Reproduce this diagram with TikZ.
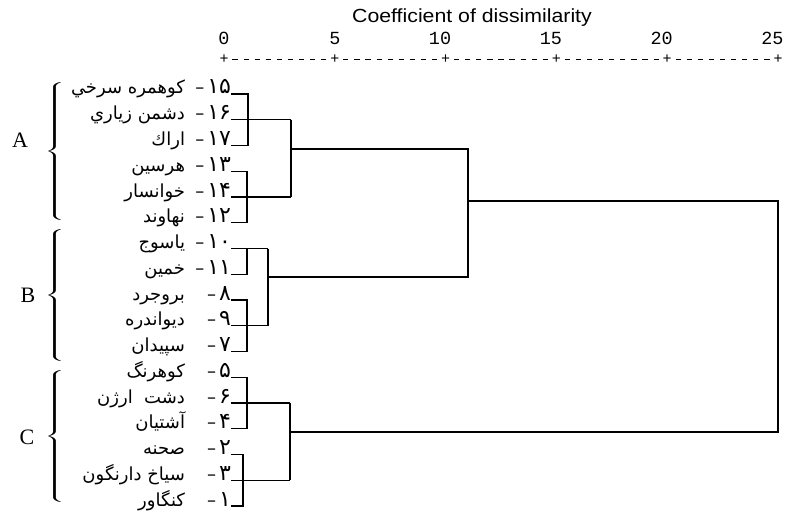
\documentclass[tikz,border=0pt]{standalone}
\usepackage{fontspec}
\TeXXeTstate=1
\newfontfamily\arabicfont[Script=Arabic]{DejaVu Sans}
\newfontfamily\titlefont{Liberation Sans}
\newfontfamily\monofont{Liberation Mono}
\newfontfamily\letterfont{Liberation Serif}
\newcommand\numlab[1]{\mbox{\fontsize{18}{18}\selectfont –}\hspace{3pt}\mbox{#1}}
\begin{document}
\begin{tikzpicture}[x=1pt,y=-1pt,
  every node/.style={inner sep=0pt,outer sep=0pt},
  tree/.style={line width=1.1pt,black},
  nm/.style={anchor=base east,font=\arabicfont\fontsize{18}{18}\selectfont},
  num/.style={anchor=base east,font=\arabicfont\fontsize{22}{22}\selectfont},
  grp/.style={font=\letterfont\fontsize{22}{22}\selectfont},
  tick/.style={font=\monofont\fontsize{18.47}{18.47}\selectfont,anchor=base east},
  plus/.style={font=\monofont\fontsize{15}{15}\selectfont},
  brc/.style={xscale=2.3,transform shape},
  dsh/.style={line width=0.9pt}]
\useasboundingbox (0,0) rectangle (788,511);
% title and axis
\node[font=\titlefont\fontsize{19}{19}\selectfont,xscale=1.12,transform shape] (title) at (472,18) {Coefficient of dissimilarity};
\foreach \v/\lab in {0/0,5/5,10/10,15/15,20/20,25/25}{
  \node[tick] (v\v) at ({224+22.16*\v+5.54},45) {\lab};
  \node[plus] (p\v) at ({224+22.16*\v},59) {+};
}
\foreach \k in {0,...,4}{
  \foreach \j in {1,...,9}{
    \draw[dsh] ({224+110.8*\k+11.08*\j-2.6},59) -- ({224+110.8*\k+11.08*\j+2.6},59);
  }
}
% group labels and braces
\node[grp] (gA) at (20,140) {A};
\node[grp] (gB) at (28,295) {B};
\node[grp] (gC) at (27,437) {C};
\node[brc] (brA) at (56,152) {$\left\{\vrule height 67pt depth 67pt width 0pt\right.$};
\node[brc] (brB) at (56,296) {$\left\{\vrule height 65pt depth 65pt width 0pt\right.$};
\node[brc] (brC) at (56,438) {$\left\{\vrule height 66pt depth 66pt width 0pt\right.$};
% leaves
\foreach \id/\y/\n/\t in {
 15/94/{۱۵}/{کوهمره سرخي},
 16/119.75/{۱۶}/{دشمن زياري},
 17/145.5/{۱۷}/{اراك},
 13/171.25/{۱۳}/{هرسين},
 14/197/{۱۴}/{خوانسار},
 12/222.75/{۱۲}/{نهاوند},
 10/248.5/{۱۰}/{ياسوج},
 11/274.25/{۱۱}/{خمين},
 8/300/{۸}/{بروجرد},
 9/325.75/{۹}/{ديواندره},
 7/351.5/{۷}/{سپيدان},
 5/377.25/{۵}/{كوهرنگ},
 6/403/{۶}/{دشت\ \ ارژن},
 4/428.75/{۴}/{آشتيان},
 2/454.5/{۲}/{صحنه},
 3/480.25/{۳}/{سياخ دارنگون},
 1/506/{۱}/{كنگاور}}{
  \node[num] (n\id) at (231,\y) {\numlab{\n}};
  \node[nm] (t\id) at (185,\y) {\beginR\t\endR};
}
% cluster A
\coordinate (a1) at (248,119.75);
\coordinate (a1r) at (291,119.75);
\coordinate (a2) at (247,197);
\coordinate (a2r) at (291,197);
\coordinate (A) at (291,149);
\draw[tree] (n15.base east) -| (a1) |- (n17.base east);
\draw[tree] (n16.base east) -- (a1r);
\draw[tree] (n13.base east) -| (a2) |- (n12.base east);
\draw[tree] (n14.base east) -- (a2r);
\draw[tree] (a1r) -- (a2r);
% cluster B
\coordinate (b1) at (247,248.5);
\coordinate (b1r) at (268,248.5);
\coordinate (b2) at (247,325.75);
\coordinate (b2r) at (268,325.75);
\coordinate (B) at (268,277);
\draw[tree] (n10.base east) -- (b1r);
\draw[tree] (n11.base east) -| (b1);
\draw[tree] (n8.base east) -| (b2) |- (n7.base east);
\draw[tree] (n9.base east) -- (b2r);
\draw[tree] (b1r) -- (b2r);
% cluster C
\coordinate (c1) at (247,403);
\coordinate (c1r) at (290,403);
\coordinate (c2) at (243,480.25);
\coordinate (c2r) at (290,480.25);
\coordinate (C) at (290,432);
\draw[tree] (n5.base east) -| (c1) |- (n4.base east);
\draw[tree] (n6.base east) -- (c1r);
\draw[tree] (n2.base east) -| (c2) |- (n1.base east);
\draw[tree] (n3.base east) -- (c2r);
\draw[tree] (c1r) -- (c2r);
% upper joins
\coordinate (abt) at (468,149);
\coordinate (abb) at (468,277);
\coordinate (ab) at (468,201);
\coordinate (rt) at (778,201);
\coordinate (rb) at (778,432);
\draw[tree] (A) -- (abt) -- (abb) -- (B);
\draw[tree] (ab) -- (rt) -- (rb) -- (C);
\end{tikzpicture}
\end{document}
